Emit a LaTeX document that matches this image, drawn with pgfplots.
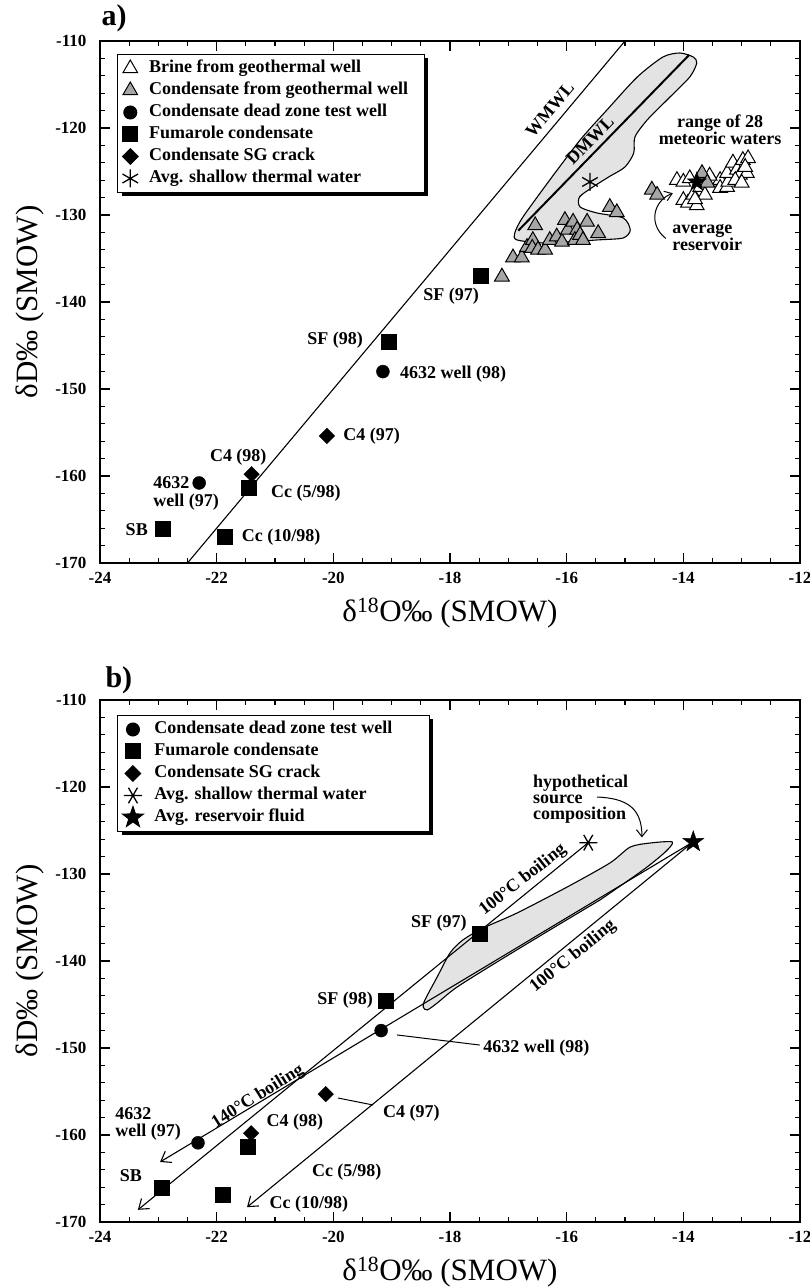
\documentclass[border=0pt]{standalone}
\usepackage{fontspec}
\setmainfont{Liberation Serif}
\usepackage{pgfplots}
\pgfplotsset{compat=1.18}
\usetikzlibrary{arrows.meta,shadows,plotmarks}

\newcommand\fs[1]{\fontsize{#1}{#1}\selectfont}
\newcommand\legpad[1]{\makebox[268pt][l]{#1}}
\tikzset{lab/.style={font=\fs{18}\bfseries, inner sep=0pt}}

% filled five-pointed star
\pgfdeclareplotmark{fstar}{%
  \pgfpathmoveto{\pgfpointpolar{90}{\pgfplotmarksize}}%
  \pgfpathlineto{\pgfpointpolar{126}{0.4\pgfplotmarksize}}%
  \pgfpathlineto{\pgfpointpolar{162}{\pgfplotmarksize}}%
  \pgfpathlineto{\pgfpointpolar{198}{0.4\pgfplotmarksize}}%
  \pgfpathlineto{\pgfpointpolar{234}{\pgfplotmarksize}}%
  \pgfpathlineto{\pgfpointpolar{270}{0.4\pgfplotmarksize}}%
  \pgfpathlineto{\pgfpointpolar{306}{\pgfplotmarksize}}%
  \pgfpathlineto{\pgfpointpolar{342}{0.4\pgfplotmarksize}}%
  \pgfpathlineto{\pgfpointpolar{18}{\pgfplotmarksize}}%
  \pgfpathlineto{\pgfpointpolar{54}{0.4\pgfplotmarksize}}%
  \pgfpathclose\pgfusepathqfillstroke}

\pgfplotsset{
  isoaxis/.style={
    scale only axis, width=700pt, height=522pt,
    xmin=-24, xmax=-12, ymin=-170, ymax=-110,
    xtick={-24,-22,...,-12}, ytick={-170,-160,...,-110},
    xticklabels={-24,-22,-20,-18,-16,-14,-12},
    yticklabels={-170,-160,-150,-140,-130,-120,-110},
    minor x tick num=3, minor y tick num=4,
    tick align=inside, major tick length=10pt, minor tick length=5pt,
    every tick/.style={black, line width=1.1pt},
    axis line style={line width=1.6pt},
    tick label style={font=\fs{17}\bfseries},
    xticklabel style={yshift=-6pt},
    yticklabel style={xshift=-10pt},
    xlabel={δ\textsuperscript{18}O‰ (SMOW)},
    ylabel={δD‰ (SMOW)},
    every axis x label/.style={at={(axis description cs:0.5,-0.096)}, anchor=center, font=\fs{31}},
    every axis y label/.style={at={(axis description cs:-0.1,0.5)}, anchor=center, rotate=90, font=\fs{31}},
    clip=false,
    legend style={at={(axis description cs:0,1)}, anchor=north west, xshift=17pt,
      draw=black, line width=1pt, fill=white,
      drop shadow={shadow xshift=4pt, shadow yshift=-4pt, fill=black, opacity=1},
      font=\fs{18}\bfseries, cells={anchor=west}, inner xsep=5pt, inner ysep=3pt,
      nodes={text height=12.5pt, text depth=4.5pt, inner ysep=2.5pt},
      /tikz/every odd column/.append style={column sep=9pt}},
    legend image code/.code={\draw[#1] plot coordinates {(0pt,0pt)};},
  },
}

\begin{document}
\begin{tikzpicture}
\path[use as bounding box] (0,0) rectangle (810pt,1288pt);

% ---------------- panel a ----------------
\begin{axis}[isoaxis, at={(100pt,725pt)}, anchor=south west,
  legend style={yshift=-13pt}]
\addplot[draw=black, line width=1.1pt, fill=gray!22, smooth, tension=0.45, forget plot] coordinates {
 (-16.29,-125.98) (-15.77,-121.38) (-15.31,-117.93) (-14.79,-114.14) (-14.35,-111.84)
 (-14.06,-111.38) (-13.83,-111.84) (-13.77,-112.53) (-13.89,-114.14) (-14.28,-116.78)
 (-14.62,-119.08) (-14.83,-121.03) (-14.85,-122.87) (-15.00,-124.48) (-15.28,-125.63)
 (-15.55,-126.78) (-15.78,-127.93) (-15.77,-129.08) (-15.48,-129.77) (-15.03,-130.34)
 (-14.91,-131.72) (-15.03,-132.64) (-15.48,-132.87) (-16.34,-133.22) (-16.85,-132.87)
 (-16.89,-132.07) (-16.75,-130.23) (-16.29,-125.98)};
\addplot[black, line width=1.1pt, forget plot] coordinates {(-22.5,-170) (-15,-110)};
\addplot[black, line width=2pt, forget plot] coordinates {(-16.83,-131.8) (-13.9,-111.6)};

\addplot[only marks, mark=triangle*, mark size=8.5pt, mark options={fill=white, draw=black, line width=1pt}] coordinates {
 (-14.11,-126.0) (-14.00,-126.2) (-14.00,-128.3) (-13.92,-128.6) (-13.83,-127.7)
 (-13.77,-128.9) (-13.71,-126.8) (-13.63,-127.7) (-13.49,-126.2) (-13.37,-126.0)
 (-13.37,-126.9) (-13.25,-126.8) (-13.23,-126.2) (-13.25,-125.2) (-13.15,-124.0)
 (-13.08,-124.8) (-13.03,-125.4) (-12.98,-123.7) (-12.91,-125.2) (-12.89,-123.5)
 (-12.94,-124.5) (-13.11,-126.0) (-13.89,-125.8) (-13.80,-128.2) (-13.55,-125.5)
 (-13.00,-126.3)};
\addlegendentry{\legpad{Brine from geothermal well}}
\addplot[only marks, mark=triangle*, mark size=8.5pt, mark options={fill=gray!70, draw=black, line width=1pt}] coordinates {
 (-16.92,-134.9) (-16.77,-134.9) (-16.68,-133.7) (-16.58,-132.9) (-16.59,-133.8)
 (-16.49,-134.0) (-16.54,-131.2) (-16.37,-134.0) (-16.29,-132.9) (-16.17,-132.5)
 (-16.08,-133.1) (-16.03,-130.6) (-15.98,-131.7) (-15.89,-130.8) (-15.82,-131.7)
 (-15.86,-132.9) (-15.77,-132.3) (-15.65,-130.8) (-15.72,-132.9) (-15.46,-132.1)
 (-15.26,-129.1) (-15.14,-129.7) (-17.11,-137.1) (-14.54,-127.1) (-14.45,-127.7)
 (-13.68,-125.2) (-13.59,-126.3)};
\addlegendentry{\legpad{Condensate from geothermal well}}
\addplot[only marks, mark=*, mark size=6.5pt, mark options={fill=black}] coordinates {
 (-19.15,-148.0) (-22.30,-160.8)};
\addlegendentry{\legpad{Condensate dead zone test well}}
\addplot[only marks, mark=square*, mark size=7.5pt, mark options={fill=black}] coordinates {
 (-19.05,-144.6) (-17.47,-137.0) (-21.45,-161.4) (-22.92,-166.1) (-21.87,-167.0)};
\addlegendentry{\legpad{Fumarole condensate}}
\addplot[only marks, mark=square*, mark size=5.5pt, mark options={fill=black, rotate=45}] coordinates {
 (-20.11,-155.4) (-21.40,-159.8)};
\addlegendentry{\legpad{Condensate SG crack}}
\addplot[only marks, mark=asterisk, mark size=9pt, mark options={line width=1.3pt}] coordinates {
 (-15.60,-126.2)};
\addlegendentry{\legpad{Avg. shallow thermal water}}
\addplot[only marks, mark=fstar, mark size=10pt, mark options={fill=black}, forget plot] coordinates {
 (-13.77,-126.2)};

\node[font=\fs{30}\bfseries] at (axis description cs:0.02,1.044) {a)};
\node[lab, rotate=50] at (axis cs:-16.29,-117.9) {WMWL};
\node[lab, rotate=45.7] at (axis cs:-15.60,-121.4) {DMWL};
\node[lab, align=center] at (axis cs:-13.37,-120.2) {range of 28\\[-1pt]meteoric waters};
\node[lab, align=left, anchor=west] at (axis cs:-14.19,-132.6) {average\\[-1pt]reservoir};
\draw[line width=1pt, -{Straight Barb[length=7pt,width=10pt]}] (axis cs:-14.30,-132.7)
  .. controls (axis cs:-14.62,-131.0) and (axis cs:-14.50,-128.3) .. (axis cs:-14.18,-127.5);
\node[lab] at (axis cs:-17.98,-139.3) {SF (97)};
\node[lab, anchor=east] at (axis cs:-19.49,-144.4) {SF (98)};
\node[lab, anchor=west] at (axis cs:-18.86,-148.3) {4632 well (98)};
\node[lab, anchor=west] at (axis cs:-19.83,-155.4) {C4 (97)};
\node[lab] at (axis cs:-21.63,-157.8) {C4 (98)};
\node[lab, anchor=west] at (axis cs:-23.09,-160.8) {4632};
\node[lab, anchor=west] at (axis cs:-23.09,-163.0) {well (97)};
\node[lab, anchor=west] at (axis cs:-21.07,-161.95) {Cc (5/98)};
\node[lab] at (axis cs:-23.37,-166.2) {SB};
\node[lab, anchor=west] at (axis cs:-21.57,-167.0) {Cc (10/98)};
\end{axis}

% ---------------- panel b ----------------
\begin{axis}[isoaxis, at={(100pt,66pt)}, anchor=south west,
  legend style={yshift=-15pt}]
\addplot[draw=black, line width=1.1pt, fill=gray!22, smooth, tension=0.45, forget plot] coordinates {
 (-15.43,-132.99) (-16.29,-136.44) (-17.14,-139.89) (-17.88,-143.00) (-18.22,-144.83)
 (-18.39,-145.63) (-18.46,-145.29) (-18.43,-144.48) (-18.22,-141.84) (-18.00,-139.08)
 (-17.78,-137.59) (-17.43,-136.21) (-16.85,-134.48) (-15.99,-131.49) (-15.26,-128.74)
 (-14.91,-126.90) (-14.57,-126.44) (-14.19,-126.32) (-14.31,-127.47) (-14.69,-129.54)
 (-15.43,-132.99)};
\addplot[black, line width=1.1pt, -{Straight Barb[length=9pt,width=13pt]}, forget plot] coordinates {(-15.63,-126.4) (-23.35,-168.6)};
\addplot[black, line width=1.1pt, -{Straight Barb[length=9pt,width=13pt]}, forget plot] coordinates {(-13.83,-126.3) (-22.97,-163.1)};
\addplot[black, line width=1.1pt, -{Straight Barb[length=9pt,width=13pt]}, forget plot] coordinates {(-13.83,-126.3) (-21.48,-168.3)};

\addplot[only marks, mark=*, mark size=6.5pt, mark options={fill=black}] coordinates {
 (-19.18,-148.0) (-22.32,-160.9)};
\addlegendentry{\legpad{Condensate dead zone test well}}
\addplot[only marks, mark=square*, mark size=7.5pt, mark options={fill=black}] coordinates {
 (-19.10,-144.6) (-17.49,-136.9) (-21.46,-161.3) (-22.94,-166.0) (-21.89,-166.9)};
\addlegendentry{\legpad{Fumarole condensate}}
\addplot[only marks, mark=square*, mark size=5.5pt, mark options={fill=black, rotate=45}] coordinates {
 (-20.13,-155.3) (-21.41,-159.8)};
\addlegendentry{\legpad{Condensate SG crack}}
\addplot[only marks, mark=asterisk, mark size=9pt, mark options={line width=1.3pt, rotate=90}] coordinates {
 (-15.63,-126.4)};
\addlegendentry{\legpad{Avg. shallow thermal water}}
\addplot[only marks, mark=fstar, mark size=11pt, mark options={fill=black}] coordinates {
 (-13.83,-126.3)};
\addlegendentry{\legpad{Avg. reservoir fluid}}

\node[font=\fs{30}\bfseries] at (axis description cs:0.027,1.038) {b)};
\node[lab, align=left, anchor=west] at (axis cs:-16.58,-121.4) {hypothetical\\[-2pt]source\\[-2pt]composition};
\draw[line width=1pt, -{Straight Barb[length=7pt,width=11pt]}] (axis cs:-15.48,-121.15)
  .. controls (axis cs:-14.95,-121.3) and (axis cs:-14.71,-122.5) .. (axis cs:-14.71,-125.8);
\node[lab, rotate=38] at (axis cs:-16.75,-130.7) {100°C boiling};
\node[lab, rotate=39] at (axis cs:-15.89,-139.5) {100°C boiling};
\node[lab, rotate=32] at (axis cs:-21.29,-155.6) {140°C boiling};
\node[lab, anchor=east] at (axis cs:-17.71,-135.6) {SF (97)};
\node[lab, anchor=east] at (axis cs:-19.32,-144.5) {SF (98)};
\draw[line width=1pt] (axis cs:-18.91,-148.5) -- (axis cs:-17.49,-149.66);
\node[lab, anchor=west] at (axis cs:-17.43,-150.0) {4632 well (98)};
\draw[line width=1pt] (axis cs:-19.92,-155.75) -- (axis cs:-19.32,-156.55);
\node[lab, anchor=west] at (axis cs:-19.15,-157.5) {C4 (97)};
\node[lab] at (axis cs:-20.66,-158.5) {C4 (98)};
\node[lab, anchor=west] at (axis cs:-23.74,-157.5) {4632};
\node[lab, anchor=west] at (axis cs:-23.74,-159.7) {well (97)};
\node[lab] at (axis cs:-23.47,-164.7) {SB};
\node[lab] at (axis cs:-19.77,-164.25) {Cc (5/98)};
\node[lab] at (axis cs:-20.42,-168.0) {Cc (10/98)};
\end{axis}
\end{tikzpicture}
\end{document}
